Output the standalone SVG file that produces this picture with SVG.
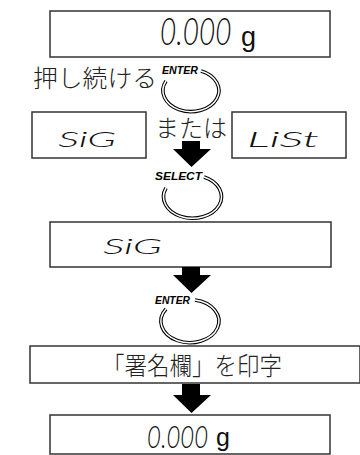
<svg xmlns="http://www.w3.org/2000/svg" width="360" height="455" viewBox="0 0 360 455">
<style>
.box{fill:#fff;stroke:#333;stroke-width:1.5}
.jp{font-family:"Noto Sans CJK JP",sans-serif;font-weight:300;fill:#222}
.seg{font-family:Lato,"DejaVu Sans",sans-serif;font-weight:300;font-style:italic;fill:#111}
.g{font-family:"Liberation Sans",sans-serif;fill:#111}
.key{font-family:"Liberation Sans",sans-serif;font-weight:bold;font-style:italic;font-size:10px;fill:#000}
.ringO{fill:none;stroke:#000;stroke-width:3.6}
.ringI{fill:none;stroke:#fff;stroke-width:1.5}
.arrow{fill:#000}
</style>
<rect width="360" height="455" fill="#fff"/>
<g id="display-top">
<rect class="box" x="50" y="11" width="280" height="46"/>
<text class="seg" transform="translate(160,45) scale(1,1.3)" font-size="28">0.000</text>
<text class="g" x="241" y="46" font-size="27">g</text>
</g>
<g id="hold-label">
<text class="jp" x="33" y="87" font-size="24" textLength="124" lengthAdjust="spacingAndGlyphs">押し続ける</text>
</g>
<g id="enter-key-1">
<text class="key" x="162" y="74" textLength="36" lengthAdjust="spacingAndGlyphs">ENTER</text>
<path class="ringO" d="M201,71 A28,21 0 1,1 166,81"/>
<path class="ringI" d="M201,71 A28,21 0 1,1 166,81"/>
</g>
<g id="display-sig">
<rect class="box" x="32" y="112" width="114" height="46"/>
<text class="seg" x="58" y="147" font-size="21" textLength="58" lengthAdjust="spacingAndGlyphs">SiG</text>
</g>
<g id="or-label">
<text class="jp" x="155" y="137" font-size="24" textLength="72" lengthAdjust="spacingAndGlyphs">または</text>
</g>
<g id="display-list">
<rect class="box" x="232" y="112" width="114" height="46"/>
<text class="seg" x="247" y="147" font-size="21" textLength="72" lengthAdjust="spacingAndGlyphs">LiSt</text>
</g>
<g id="select-key">
<text class="key" x="155" y="180" textLength="47" lengthAdjust="spacingAndGlyphs">SELECT</text>
<path class="ringO" d="M204,177 A29,21.5 0 1,1 166,188"/>
<path class="ringI" d="M204,177 A29,21.5 0 1,1 166,188"/>
</g>
<g id="display-sig-2">
<rect class="box" x="50" y="222" width="281" height="45"/>
<text class="seg" x="103" y="254" font-size="22" textLength="59" lengthAdjust="spacingAndGlyphs">SiG</text>
</g>
<g id="enter-key-2">
<text class="key" x="155" y="304" textLength="35" lengthAdjust="spacingAndGlyphs">ENTER</text>
<path class="ringO" d="M195,300 A29,21.5 0 1,1 166,309"/>
<path class="ringI" d="M195,300 A29,21.5 0 1,1 166,309"/>
</g>
<g id="print-signature">
<rect class="box" x="30" y="346" width="330" height="37"/>
<text class="jp" x="102" y="375" font-size="25" textLength="180" lengthAdjust="spacingAndGlyphs">「署名欄」を印字</text>
</g>
<g id="display-bottom">
<rect class="box" x="50" y="415" width="280" height="39"/>
<text class="seg" transform="translate(147,448) scale(1,1.3)" font-size="24">0.000</text>
<text class="g" x="216" y="446" font-size="25">g</text>
</g>
<g id="connectors">
<polygon class="arrow" points="182,141 200,141 200,149 211,149 191.5,167 173,149 182,149"/>
<polygon class="arrow" points="182,267 200,267 200,275 211,275 191.5,293 173,275 182,275"/>
<polygon class="arrow" points="182,384 200,384 200,395 211,395 191.5,413 173,395 182,395"/>
</g>
</svg>
